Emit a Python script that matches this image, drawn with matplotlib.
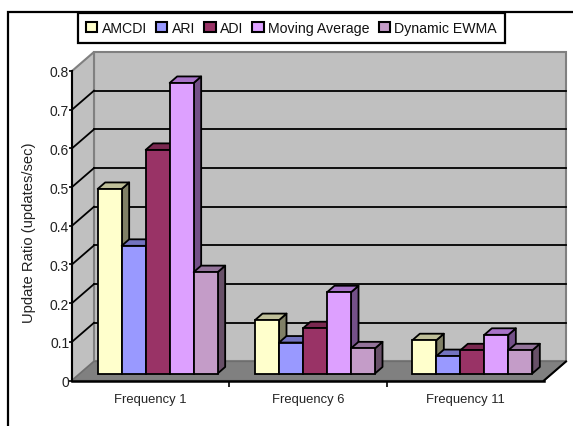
import matplotlib
matplotlib.use("Agg")
import matplotlib.pyplot as plt
from matplotlib.patches import Patch, Polygon, Rectangle
from matplotlib.transforms import offset_copy

plt.rcParams['font.family'] = ['Liberation Sans', 'DejaVu Sans']

categories = ["Frequency 1", "Frequency 6", "Frequency 11"]
series = ["AMCDI", "ARI", "ADI", "Moving Average", "Dynamic EWMA"]
amcdi = [0.477, 0.138, 0.086]
ari = [0.330, 0.080, 0.045]
adi = [0.578, 0.117, 0.060]
moving_average = [0.751, 0.210, 0.100]
dynamic_ewma = [0.262, 0.065, 0.060]
values = [amcdi, ari, adi, moving_average, dynamic_ewma]
y_ticks = [0, 0.1, 0.2, 0.3, 0.4, 0.5, 0.6, 0.7, 0.8]
y_labels = ["0", "0.1", "0.2", "0.3", "0.4", "0.5", "0.6", "0.7", "0.8"]

front = ["#FFFFCC", "#9999FF", "#993366", "#DDA0FF", "#C49CC8"]
side = ["#808066", "#6060A8", "#6E2A4E", "#745088", "#685068"]
top = ["#BFBF99", "#7373C0", "#7A2850", "#A873C8", "#93739A"]

W, H = 573, 427
fig = plt.figure(figsize=(W / 100, H / 100), dpi=100)
ax = fig.add_axes([72 / W, (H - 381.5) / H, 472 / W, 309.5 / H])
ax.set_xlim(0, 3)
ax.set_ylim(0, 0.8)
ax.patch.set_visible(False)
ax.set_autoscale_on(False)

# outer frame runs off the right and bottom of the picture
fig.add_artist(Rectangle((8 / W, -0.1), 1.2, 1.1 - 13 / H, transform=fig.transFigure,
                         fill=False, ec="black", lw=1.6))

# pixel sizes in data units
px = 3 / 472
py = 0.8 / 309
back_dx, back_dy = 22 * px, 19 * py

# walls and floor
wall_kw = dict(closed=True, ec="#808080", lw=1.5, zorder=1, clip_on=False)
ax.add_patch(Polygon([(back_dx, back_dy), (3 + back_dx, back_dy), (3 + back_dx, 0.8 + back_dy),
                      (back_dx, 0.8 + back_dy)], fc="#C0C0C0", **wall_kw))
ax.add_patch(Polygon([(0, 0), (back_dx, back_dy), (back_dx, 0.8 + back_dy), (0, 0.8)],
                     fc="#C0C0C0", **wall_kw))
ax.add_patch(Polygon([(0, 0), (3, 0), (3 + back_dx, back_dy), (back_dx, back_dy)],
                     fc="#808080", closed=True, ec="#6E6E6E", lw=1, zorder=1.5, clip_on=False))
ax.plot([3, 3 + back_dx], [0, back_dy], color="black", lw=1.5, zorder=1.6, clip_on=False)

# gridlines on the back wall and the left wall
for t in y_ticks[1:-1]:
    ax.plot([back_dx, 3 + back_dx], [t + back_dy, t + back_dy], color="black", lw=1.3, zorder=2, clip_on=False)
    ax.plot([0, back_dx], [t, t + back_dy], color="black", lw=1.3, zorder=2, clip_on=False)

# bars
bar_w = 24 * px
gap_x, gap_y = 7, 7
dx, dy = 7.5 * px, 6.5 * py
bar_trans = offset_copy(ax.transData, fig=fig, x=gap_x, y=gap_y, units="dots")
z = 3
for g in range(len(categories)):
    for s in range(len(series)):
        x0 = g + 0.5 + (s - 2.5) * bar_w
        v = values[s][g]
        ax.add_patch(Polygon([(x0 + bar_w, 0), (x0 + bar_w + dx, dy), (x0 + bar_w + dx, v + dy), (x0 + bar_w, v)],
                             closed=True, fc=side[s], ec="black", lw=1.3, zorder=z,
                             transform=bar_trans, clip_on=False, joinstyle="round"))
        ax.add_patch(Polygon([(x0, v), (x0 + bar_w, v), (x0 + bar_w + dx, v + dy), (x0 + dx, v + dy)],
                             closed=True, fc=top[s], ec="black", lw=1.3, zorder=z,
                             transform=bar_trans, clip_on=False, joinstyle="round"))
        ax.bar(x0, v, bar_w, align="edge", color=front[s], edgecolor="black", linewidth=1.3,
               zorder=z + 0.1, transform=bar_trans, clip_on=False)
        z += 0.2

# axes
for name in ["top", "right"]:
    ax.spines[name].set_visible(False)
ax.spines["left"].set_linewidth(1.5)
ax.spines["bottom"].set_linewidth(1.8)
ax.spines["left"].set_zorder(2.5)
ax.spines["bottom"].set_zorder(2.5)
ax.set_yticks(y_ticks, y_labels, fontsize=10, color="#222222")
ax.tick_params(axis="y", length=2, width=1.2, pad=0, direction="out")
ax.set_xticks([0.5, 1.5, 2.5], categories, fontsize=9.4, color="#222222")
ax.set_xticks([1, 2], minor=True)
ax.tick_params(axis="x", which="major", length=0, pad=9)
ax.tick_params(axis="x", which="minor", length=4, width=1.2, direction="out")
fig.text(29 / W, 1 - 233 / H, "Update Ratio (updates/sec)", rotation=90, fontsize=10.6,
         ha="center", va="center", color="#222222")

handles = [Patch(fc=c, ec="black", lw=1.5) for c in front]
leg = fig.legend(handles=handles, labels=series, ncol=5, loc="center", fontsize=10.2,
                 bbox_to_anchor=((78 + 505) / 2 / W, 1 - 29 / H), frameon=True, fancybox=False,
                 framealpha=1, edgecolor="black", borderpad=0.55, handlelength=0.8, handleheight=0.8,
                 handletextpad=0.3, columnspacing=0.65, borderaxespad=0, labelcolor="#111111")
leg.get_frame().set_linewidth(1.6)
leg.set_zorder(10)

fig.savefig("out.png", dpi=100)
